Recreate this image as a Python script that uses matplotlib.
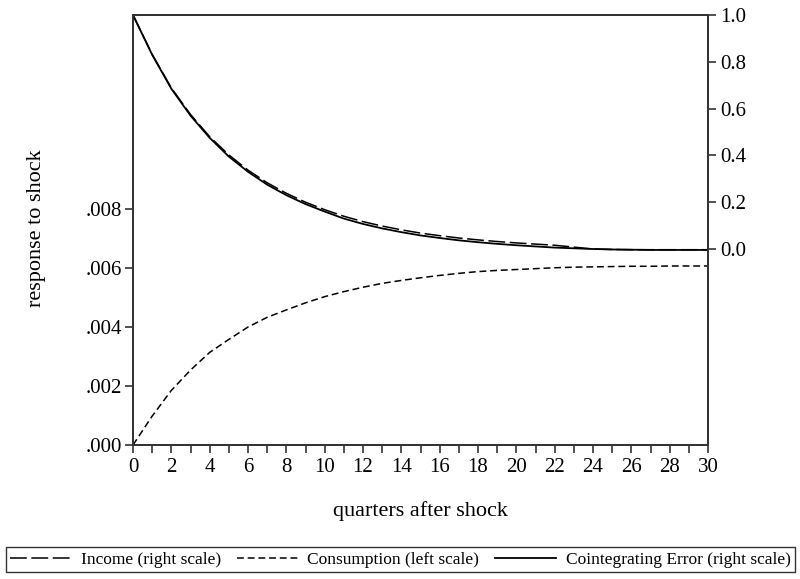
import matplotlib
matplotlib.use("Agg")
import matplotlib.pyplot as plt
from matplotlib.ticker import MultipleLocator, FixedLocator, FuncFormatter

plt.rcParams['font.family'] = ['Liberation Serif', 'DejaVu Serif']

# quarters after the shock
quarters = list(range(31))

# left scale
consumption = [0.0, 0.00098, 0.00185, 0.00254, 0.00314, 0.00358, 0.00400, 0.00433,
               0.00458, 0.00482, 0.00503, 0.00520, 0.00535, 0.00548, 0.00558, 0.00567,
               0.00575, 0.00582, 0.00588, 0.00592, 0.00595, 0.00598, 0.00601, 0.00603,
               0.00604, 0.00605, 0.00606, 0.00606, 0.00607, 0.00607, 0.00607]

# right scale
income = [1.000, 0.832, 0.688, 0.575, 0.480, 0.402, 0.337, 0.283, 0.238, 0.200,
          0.168, 0.140, 0.117, 0.098, 0.082, 0.068, 0.057, 0.047, 0.039, 0.032,
          0.026, 0.021, 0.016, 0.008, 0.000, -0.002, -0.003, -0.003, -0.003, -0.003, -0.003]
coint_error = [1.000, 0.830, 0.685, 0.570, 0.475, 0.395, 0.330, 0.275, 0.230, 0.192,
               0.160, 0.130, 0.107, 0.088, 0.072, 0.058, 0.047, 0.037, 0.029, 0.022,
               0.016, 0.011, 0.006, 0.003, 0.000, -0.002, -0.003, -0.004, -0.004, -0.004, -0.004]

left_ticks = [0.000, 0.002, 0.004, 0.006, 0.008]
right_ticks = [0.0, 0.2, 0.4, 0.6, 0.8, 1.0]

fig = plt.figure(figsize=(8, 5.79), dpi=100)
ax = fig.add_axes([133/800, 1-445/579, (708-133)/800, (445-15)/579])
ax2 = ax.twinx()

lw = 1.1
l_inc, = ax2.plot(quarters, income, color='black', lw=lw, dashes=(11, 3),
                  label='Income (right scale)')
l_con, = ax.plot(quarters, consumption, color='black', lw=lw, dashes=(4.5, 2.5),
                 label='Consumption (left scale)')
l_coi, = ax2.plot(quarters, coint_error, color='black', lw=lw + 0.2,
                  label='Cointegrating Error (right scale)')

ax.set_xlim(0, 30)
ax.set_ylim(0, 0.01458)
ax2.set_ylim(-0.8376, 1.0)

ax.xaxis.set_major_locator(MultipleLocator(2))
ax.xaxis.set_minor_locator(MultipleLocator(1))
ax.yaxis.set_major_locator(FixedLocator(left_ticks))
ax.yaxis.set_major_formatter(FuncFormatter(lambda v, p: ('%.3f' % v).lstrip('0')))
ax2.yaxis.set_major_locator(FixedLocator(right_ticks))
ax2.yaxis.set_major_formatter(FuncFormatter(lambda v, p: '%.1f' % abs(v) if abs(v) < 1e-9 else '%.1f' % v))

for a in (ax, ax2):
    a.tick_params(axis='both', which='both', direction='out', labelsize=15,
                  color='#333333', width=1.2)
    a.tick_params(which='major', length=6)
    a.tick_params(which='minor', length=6)
    for s in a.spines.values():
        s.set_color('#333333')
        s.set_linewidth(1.3)
ax.tick_params(axis='x', pad=3)
ax.tick_params(axis='y', pad=2)
ax2.tick_params(axis='y', pad=3)

ax.set_xlabel('quarters after shock', fontsize=16, labelpad=18)
ax.set_ylabel('response to shock', fontsize=16)
ax.yaxis.set_label_coords(-0.152, 0.505)

fig.legend(handles=[l_inc, l_con, l_coi], loc='lower left',
           bbox_to_anchor=(6/800, 7/579, 789/800, 26/579), mode='expand',
           ncol=3, fontsize=12.5, frameon=True, fancybox=False, edgecolor='black',
           handlelength=3.5, handletextpad=0.55, borderaxespad=0, borderpad=0.25,
           columnspacing=1.0)
fig.legends[0].get_frame().set_linewidth(1.0)

fig.savefig('out.png', dpi=100)
